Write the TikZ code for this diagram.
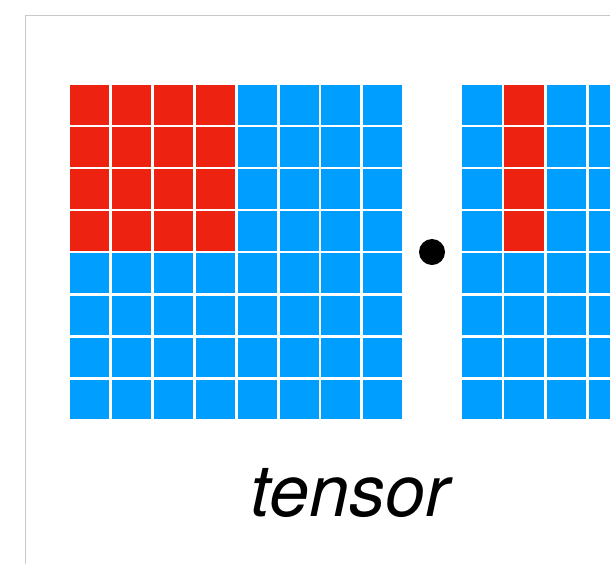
\documentclass[tikz,border=0pt]{standalone}
\usepackage{fontspec}
\usepackage{tikz}
\usetikzlibrary{positioning,calc}
\newfontfamily\tnfont{TeX Gyre Heros}
\definecolor{tnRed}{HTML}{EE2210}
\definecolor{tnBlue}{HTML}{009FFF}
\definecolor{tnFrame}{HTML}{C8C8C8}
\tikzset{
  cellblue/.style={fill=tnBlue},
  cellred/.style={fill=tnRed},
  frameline/.style={draw=tnFrame, line width=1pt},
  dotnode/.style={circle, fill=black, inner sep=0pt, minimum size=26pt},
  tag/.style={font=\tnfont\itshape\fontsize{72}{72}\selectfont, inner sep=0pt}
}
\begin{document}
\begin{tikzpicture}[x=1pt, y=-1pt]
  \useasboundingbox (0,0) rectangle (610,563);
  \clip (0,0) rectangle (610,563);
  % frame
  \draw[frameline] (25,570) -- (25,15) -- (620,15);
  % left tensor, 8x8, red block in the corner
  \foreach \i in {0,...,7}{
    \foreach \j in {0,...,7}{
      \pgfmathsetmacro{\isred}{(\i<4 && \j<4) ? 1 : 0}
      \ifdim\isred pt>0.5pt
        \fill[cellred] ({70+41.9*\i},{85+42.1*\j}) rectangle +(39,39.5);
      \else
        \fill[cellblue] ({70+41.9*\i},{85+42.1*\j}) rectangle +(39,39.5);
      \fi
    }
  }
  % dot
  \node[dotnode] (dot) at (432,252) {};
  % right tensor, red column
  \foreach \i in {0,...,3}{
    \foreach \j in {0,...,7}{
      \pgfmathsetmacro{\isred}{(\i==1 && \j<4) ? 1 : 0}
      \ifdim\isred pt>0.5pt
        \fill[cellred] ({462+42.4*\i},{85+42.1*\j}) rectangle +(39.5,39.5);
      \else
        \fill[cellblue] ({462+42.4*\i},{85+42.1*\j}) rectangle +(39.5,39.5);
      \fi
    }
  }
  \node[tag, anchor=base] (lbl) at (350,516) {tensor};
\end{tikzpicture}
\end{document}
